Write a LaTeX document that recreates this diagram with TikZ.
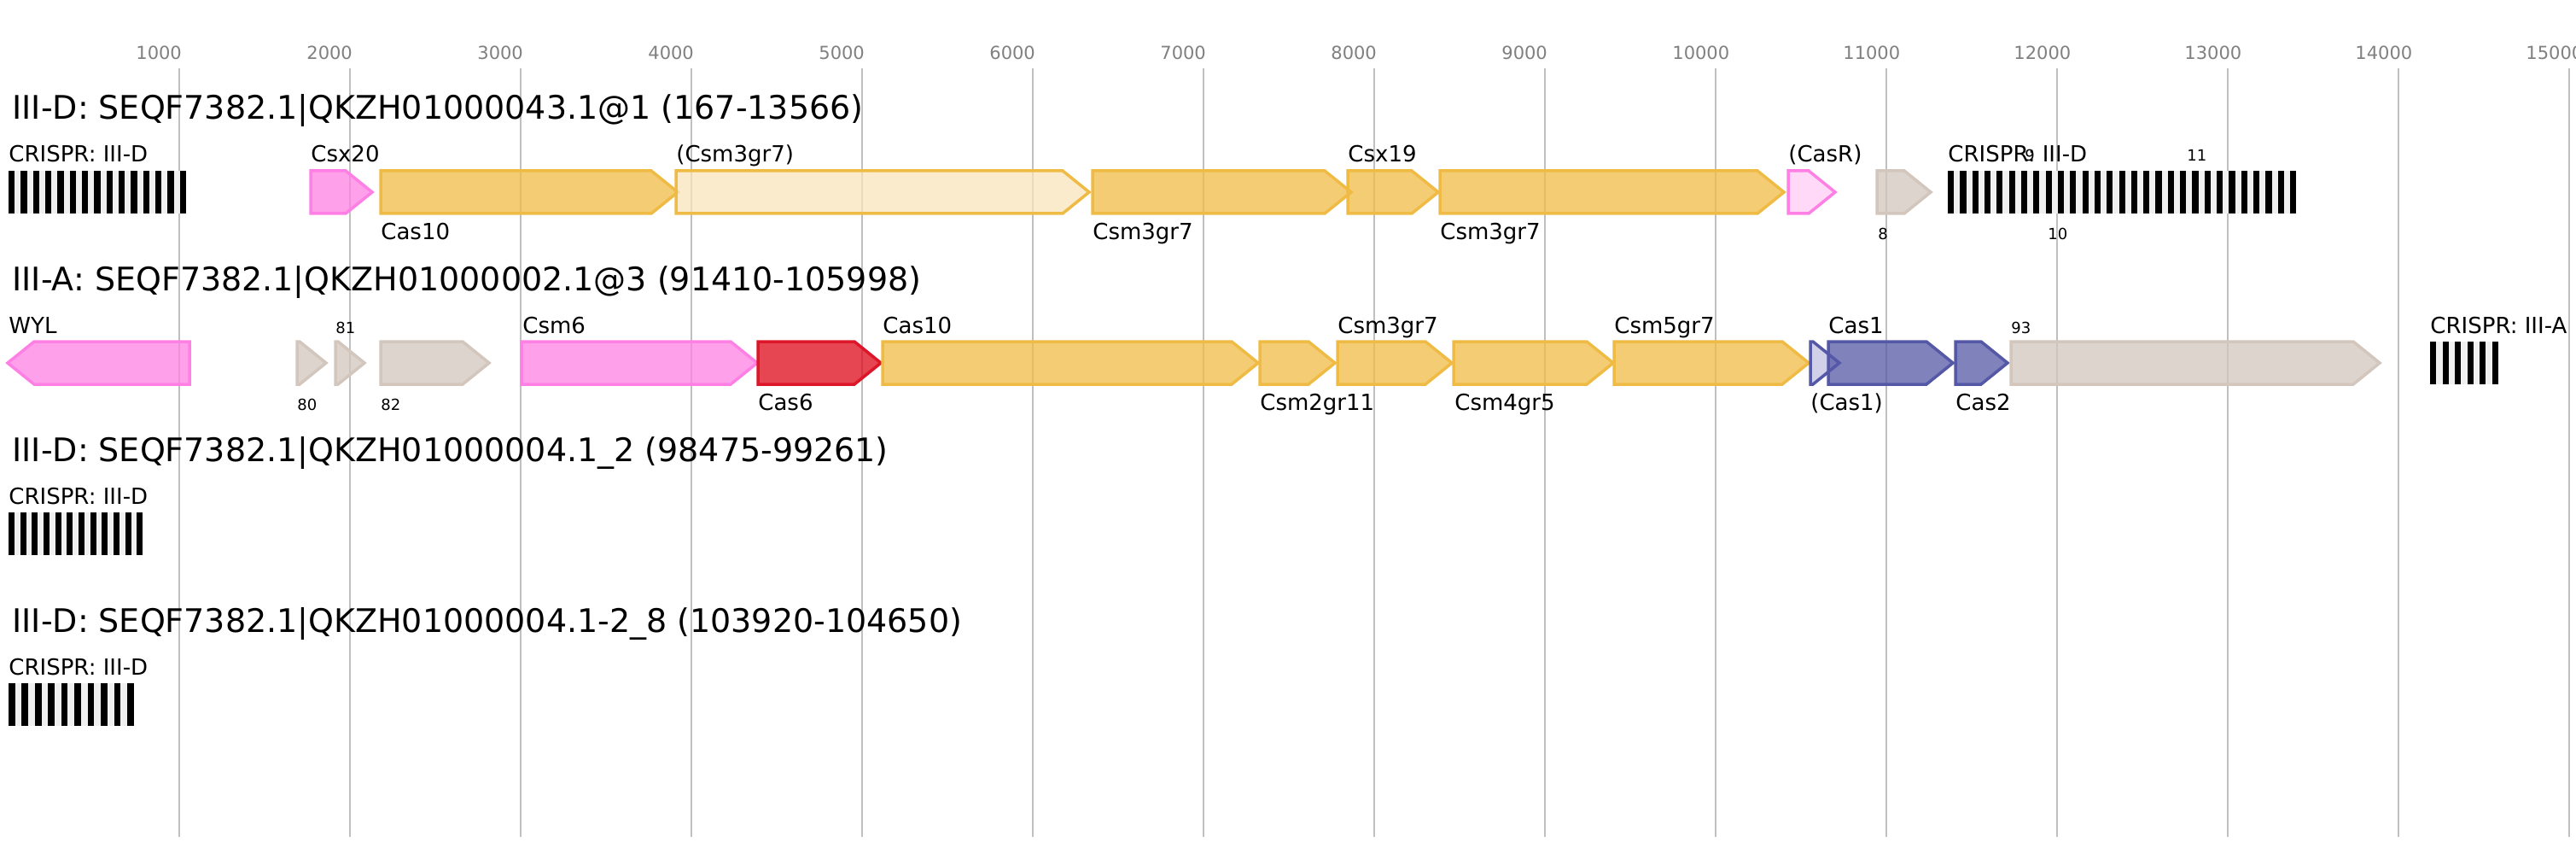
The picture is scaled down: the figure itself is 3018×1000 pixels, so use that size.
\documentclass[tikz,border=0pt]{standalone}
\usepackage{fontspec}
\setmainfont{DejaVu Sans}
\usepackage{tikz}

\definecolor{casorange}{HTML}{EFBB45}
\definecolor{paleorange}{HTML}{F8E4BB}
\definecolor{caspink}{HTML}{FF80E4}
\definecolor{palepink}{HTML}{FFCCF4}
\definecolor{casred}{HTML}{DE1629}
\definecolor{casredfill}{HTML}{DE0718}
\definecolor{casblue}{HTML}{5558A6}
\definecolor{paleblue}{HTML}{C0C0E0}
\definecolor{casgray}{HTML}{D2C6BD}
\definecolor{spacergray}{HTML}{F0F0F0}
\definecolor{gridgray}{HTML}{C0C0C0}
\definecolor{tickgray}{HTML}{808080}

\tikzset{
  gene/.style={line width=1.75pt, fill opacity=0.75},
  orangegene/.style={gene, draw=casorange, fill=casorange},
  paleorangegene/.style={gene, draw=casorange, fill=paleorange},
  pinkgene/.style={gene, draw=caspink, fill=caspink},
  palepinkgene/.style={gene, draw=caspink, fill=palepink},
  redgene/.style={gene, draw=casred, fill=casredfill},
  bluegene/.style={gene, draw=casblue, fill=casblue},
  palebluegene/.style={gene, draw=casblue, fill=paleblue},
  graygene/.style={gene, draw=casgray, fill=casgray},
  gridline/.style={draw=gridgray, line width=1pt},
  titlelabel/.style={anchor=base west, inner sep=0pt, font=\fontsize{19pt}{22pt}\selectfont},
  genelabel/.style={anchor=base west, inner sep=0pt, font=\fontsize{13pt}{15pt}\selectfont},
  numlabel/.style={anchor=base west, inner sep=0pt, font=\fontsize{9pt}{11pt}\selectfont},
  ticklabel/.style={anchor=base west, inner sep=0pt, text=tickgray, font=\fontsize{10.5pt}{12pt}\selectfont}
}

% gene arrow pointing right: style, start, end, top
\newcommand{\genefwd}[4]{%
  \pgfmathsetmacro{\tipstart}{max(#2,#3-31)}
  \draw[#1] (#2,#4) -- (\tipstart,#4) -- (#3,#4+25) -- (\tipstart,#4+50) -- (#2,#4+50) -- cycle;
}
% gene arrow pointing left: style, start, end, top
\newcommand{\generev}[4]{%
  \pgfmathsetmacro{\tipend}{min(#3,#2+31)}
  \draw[#1] (#3,#4) -- (\tipend,#4) -- (#2,#4+25) -- (\tipend,#4+50) -- (#3,#4+50) -- cycle;
}
% CRISPR array: start, top, repeats, pitch
\newcommand{\crisprarray}[4]{%
  \fill[spacergray] (#1,#2) rectangle ({#1+(#3-0.5)*#4},#2+50);
  \foreach \r in {1,...,#3}
    \fill[black] ({#1+(\r-1)*#4},#2) rectangle +(#4/2,50);
}

\begin{document}
\begin{tikzpicture}[x=0.5pt,y=-0.5pt]
\useasboundingbox (0,0) rectangle (3018,1000);

% scale
\foreach \k in {1,...,15} {
  \draw[gridline] (9.8+200*\k,80) -- (9.8+200*\k,980);
  \node[ticklabel] (tick\k) at (200*\k-41,70) {\k000};
}

% locus 1
\node[titlelabel] (title1) at (14,140) {III-D: SEQF7382.1|QKZH01000043.1@1 (167-13566)};
\crisprarray{10}{200}{15}{14.34}
\node[genelabel] (crispr1a) at (10,190) {CRISPR: III-D};
\genefwd{pinkgene}{364}{436}{200}
\node[genelabel] (csx20) at (364,190) {Csx20};
\genefwd{orangegene}{446}{794}{200}
\node[genelabel] (cas10a) at (446,280) {Cas10};
\genefwd{paleorangegene}{792}{1276}{200}
\node[genelabel] (csm3gr7a) at (792,190) {(Csm3gr7)};
\genefwd{orangegene}{1280}{1583}{200}
\node[genelabel] (csm3gr7b) at (1280,280) {Csm3gr7};
\genefwd{orangegene}{1579}{1685}{200}
\node[genelabel] (csx19) at (1579,190) {Csx19};
\genefwd{orangegene}{1687}{2090}{200}
\node[genelabel] (csm3gr7c) at (1687,280) {Csm3gr7};
\genefwd{palepinkgene}{2095}{2150}{200}
\node[genelabel] (casr) at (2095,190) {(CasR)};
\genefwd{graygene}{2199}{2262}{200}
\node[numlabel] (orf8) at (2200,280) {8};
\crisprarray{2282}{200}{29}{14.32}
\node[genelabel] (crispr1b) at (2282,190) {CRISPR: III-D};
\node[numlabel] (orf9) at (2372,189) {9};
\node[numlabel] (orf10) at (2399,280) {10};
\node[numlabel] (orf11) at (2562,189) {11};

% locus 2
\node[titlelabel] (title2) at (14,340) {III-A: SEQF7382.1|QKZH01000002.1@3 (91410-105998)};
\generev{pinkgene}{9}{222}{400}
\node[genelabel] (wyl) at (10,390) {WYL};
\genefwd{graygene}{348}{382}{400}
\node[numlabel] (orf80) at (348,480) {80};
\genefwd{graygene}{393}{427}{400}
\node[numlabel] (orf81) at (393,390) {81};
\genefwd{graygene}{446}{573}{400}
\node[numlabel] (orf82) at (446,480) {82};
\genefwd{pinkgene}{611}{887}{400}
\node[genelabel] (csm6) at (612,390) {Csm6};
\genefwd{redgene}{888}{1032}{400}
\node[genelabel] (cas6) at (888,480) {Cas6};
\genefwd{orangegene}{1034}{1474}{400}
\node[genelabel] (cas10b) at (1034,390) {Cas10};
\genefwd{orangegene}{1476}{1564}{400}
\node[genelabel] (csm2gr11) at (1476,480) {Csm2gr11};
\genefwd{orangegene}{1567}{1701}{400}
\node[genelabel] (csm3gr7d) at (1567,390) {Csm3gr7};
\genefwd{orangegene}{1703}{1890}{400}
\node[genelabel] (csm4gr5) at (1704,480) {Csm4gr5};
\genefwd{orangegene}{1891}{2119}{400}
\node[genelabel] (csm5gr7) at (1891,390) {Csm5gr7};
\genefwd{palebluegene}{2121}{2155}{400}
\node[genelabel] (cas1a) at (2121,480) {(Cas1)};
\genefwd{bluegene}{2142}{2288}{400}
\node[genelabel] (cas1b) at (2142,390) {Cas1};
\genefwd{bluegene}{2291}{2352}{400}
\node[genelabel] (cas2) at (2291,480) {Cas2};
\genefwd{graygene}{2356}{2788}{400}
\node[numlabel] (orf93) at (2356,390) {93};
\crisprarray{2847}{400}{6}{14.5}
\node[genelabel] (crispr2) at (2847,390) {CRISPR: III-A};

% locus 3
\node[titlelabel] (title3) at (14,540) {III-D: SEQF7382.1|QKZH01000004.1\_2 (98475-99261)};
\crisprarray{10}{600}{12}{13.68}
\node[genelabel] (crispr3) at (10,590) {CRISPR: III-D};

% locus 4
\node[titlelabel] (title4) at (14,740) {III-D: SEQF7382.1|QKZH01000004.1-2\_8 (103920-104650)};
\crisprarray{10}{800}{10}{15.44}
\node[genelabel] (crispr4) at (10,790) {CRISPR: III-D};
\end{tikzpicture}
\end{document}
